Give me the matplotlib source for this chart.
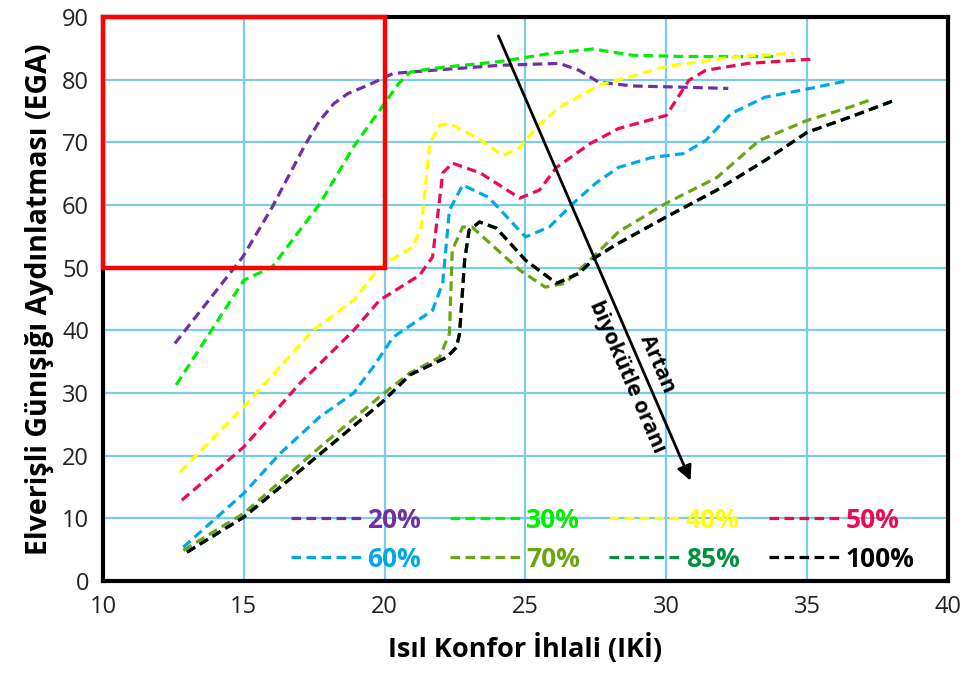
import matplotlib
matplotlib.use('Agg')
import matplotlib.pyplot as plt
from matplotlib.patches import Rectangle

plt.rcParams['font.family'] = ['Open Sans', 'DejaVu Sans']

# series (IKI on x, EGA on y)
labels = ['20%', '30%', '40%', '50%', '60%', '70%', '85%', '100%']
colors = ['#7030A0', '#00EE00', '#FFFF00', '#EC0A52', '#00A8E8', '#6AA513', '#00923F', '#000000']

iki_20 = [12.55, 14.96, 16.0, 17.2, 17.7, 18.2, 18.7, 19.4, 20.3, 22.0, 24.1, 26.2, 26.9, 27.6, 28.8, 30.6, 32.2]
ega_20 = [37.9, 51.7, 59.6, 69.8, 73.5, 76.2, 77.8, 79.1, 81.0, 81.6, 82.3, 82.6, 81.5, 79.6, 79.0, 78.8, 78.6]

iki_30 = [12.6, 15.0, 16.0, 17.7, 18.9, 19.9, 20.5, 20.9, 21.7, 24.1, 25.9, 27.4, 28.8, 30.6, 32.3, 33.8]
ega_30 = [31.3, 48.0, 50.1, 60.2, 69.3, 75.6, 79.4, 81.2, 81.8, 82.9, 84.2, 84.9, 83.9, 83.7, 83.7, 83.7]

iki_40 = [12.73, 15.0, 17.45, 18.9, 19.82, 21.0, 21.3, 21.4, 21.6, 21.95, 22.3, 23.26, 24.2, 24.8, 25.4, 26.2,
          27.6, 30.0, 32.3, 34.5]
ega_40 = [17.4, 27.8, 40.0, 44.8, 50.1, 53.3, 56.5, 60.8, 69.8, 72.7, 73.0, 70.8, 67.9, 69.2, 72.4, 75.6,
          79.1, 82.1, 83.6, 84.2]

iki_50 = [12.8, 15.0, 17.0, 18.9, 19.82, 21.24, 21.7, 21.95, 22.06, 22.4, 23.4, 24.8, 25.5, 26.1, 27.3, 28.3,
          30.0, 30.8, 31.4, 32.9, 35.25]
ega_50 = [12.9, 21.4, 31.6, 40.0, 44.8, 48.8, 51.7, 60.8, 65.1, 66.7, 65.1, 61.1, 62.4, 66.0, 69.8, 72.2,
          74.3, 79.9, 81.5, 82.6, 83.3]

iki_60 = [12.85, 15.0, 16.3, 17.7, 18.9, 19.6, 20.3, 21.7, 22.06, 22.3, 22.77, 23.7, 25.0, 25.85, 26.7, 27.5,
          28.3, 29.5, 30.6, 31.4, 32.3, 33.5, 35.1, 36.5]
ega_60 = [5.4, 14.0, 20.4, 26.2, 30.0, 34.2, 38.9, 43.2, 47.5, 59.2, 63.2, 61.2, 54.9, 56.5, 60.3, 63.5,
          66.0, 67.6, 68.2, 70.3, 74.6, 77.2, 78.6, 79.9]

iki_70 = [12.85, 15.0, 17.45, 19.9, 20.9, 21.95, 22.3, 22.4, 22.77, 23.1, 24.8, 25.7, 26.4, 27.4, 28.3,
          30.0, 31.8, 33.3, 35.0, 36.5, 37.2]
ega_70 = [4.9, 10.8, 20.4, 29.7, 33.2, 35.7, 39.5, 52.8, 56.5, 56.5, 49.6, 46.9, 47.5, 51.7, 55.7,
          60.3, 64.4, 70.3, 73.5, 75.6, 76.7]

iki_100 = [12.98, 15.0, 17.45, 19.9, 20.9, 22.2, 22.55, 22.66, 22.84, 23.0, 23.37, 23.97, 25.0, 26.1, 26.9,
           27.5, 28.3, 30.0, 31.8, 33.5, 35.0, 36.5, 38.1]
ega_100 = [4.6, 10.2, 19.3, 28.5, 32.9, 35.7, 37.3, 39.5, 51.2, 56.0, 57.3, 56.3, 51.2, 47.5, 49.1,
           51.7, 53.9, 58.1, 62.4, 67.1, 71.6, 74.0, 76.7]

# 85% curve is not visible in the chart, it sits under the 100% one
iki_85 = iki_100
ega_85 = ega_100

xs = [iki_20, iki_30, iki_40, iki_50, iki_60, iki_70, iki_85, iki_100]
ys = [ega_20, ega_30, ega_40, ega_50, ega_60, ega_70, ega_85, ega_100]

x_ticks = [10, 15, 20, 25, 30, 35, 40]
y_ticks = [0, 10, 20, 30, 40, 50, 60, 70, 80, 90]

fig = plt.figure(figsize=(9.68, 6.81), dpi=100)
ax = fig.add_axes([0.1064, 0.1468, 0.8729, 0.8282])

lines = []
for x, y, c, lab in zip(xs, ys, colors, labels):
    ln, = ax.plot(x, y, color=c, lw=2.3, dashes=(3, 1.7), label=lab, solid_joinstyle='round')
    lines.append(ln)

ax.set_xlim(10, 40)
ax.set_ylim(0, 90)
ax.set_xticks(x_ticks)
ax.set_yticks(y_ticks)
ax.tick_params(labelsize=17, length=0, pad=10, labelcolor='#222222')
ax.grid(True, color='#7CCBEA', lw=1.6)
ax.set_axisbelow(True)
for s in ax.spines.values():
    s.set_linewidth(3)
    s.set_color('black')

ax.set_xlabel('Isıl Konfor İhlali (IKİ)', fontsize=19.5, fontweight='bold', labelpad=10)
ax.set_ylabel('Elverişli Günışığı Aydınlatması (EGA)', fontsize=20.5, fontweight='bold', labelpad=6)

# red box, upper left
ax.add_patch(Rectangle((10, 50), 10, 40, fill=False, edgecolor='red', lw=3.2, clip_on=False, zorder=5))

# arrow + note
ax.annotate('', xy=(30.9, 15.6), xytext=(24.0, 87.4),
            arrowprops=dict(arrowstyle='-|>', lw=2, color='black', mutation_scale=22))
ax.text(29.15, 33.6, 'Artan\nbiyokütle oranı', rotation=-66.6, rotation_mode='anchor',
        ha='center', va='center', multialignment='center', fontsize=15.5, fontweight='bold', linespacing=1.75)

# legend: row 1 = 20..50, row 2 = 60..100
order = [0, 4, 1, 5, 2, 6, 3, 7]
leg = ax.legend([lines[i] for i in order], [labels[i] for i in order], ncol=4, loc='lower left',
                bbox_to_anchor=(0.222, 0.015), frameon=False, borderpad=0, borderaxespad=0,
                handlelength=2.7, handletextpad=0.2, columnspacing=1.1, labelspacing=0.45,
                labelcolor='linecolor', prop={'size': 19, 'weight': 'bold'})

fig.savefig('out.png', dpi=100)
